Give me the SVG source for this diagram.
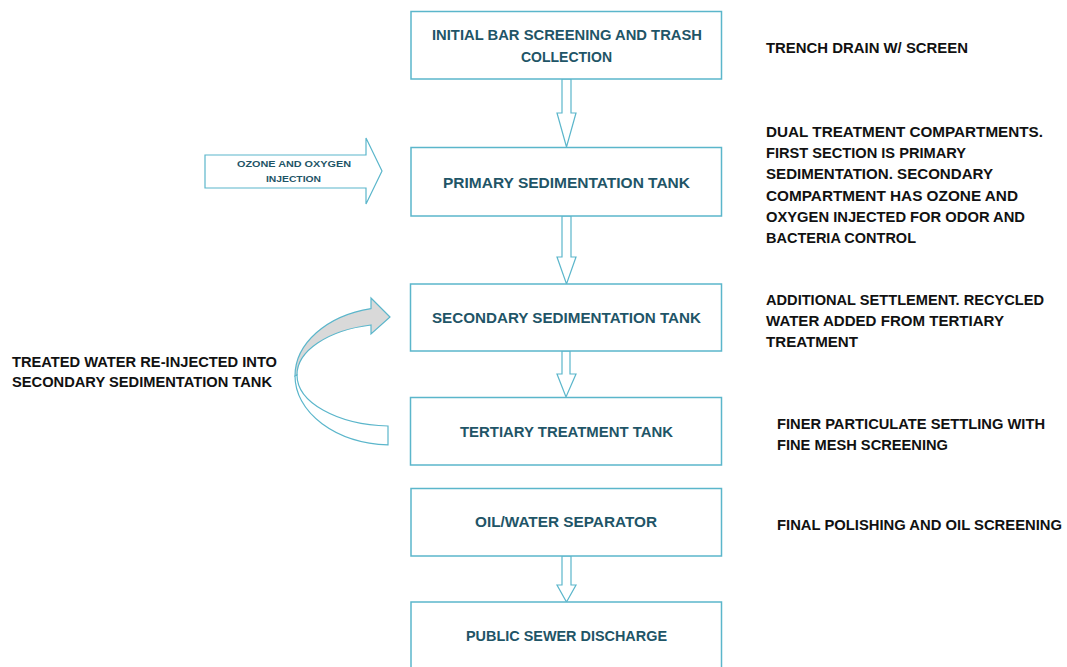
<svg xmlns="http://www.w3.org/2000/svg" width="1067" height="667" viewBox="0 0 1067 667">
<style>
.box{fill:#fff;stroke:#5bb6cb;stroke-width:1.5}
.arr{fill:#fff;stroke:#5bb6cb;stroke-width:1.2;stroke-linejoin:miter}
.bt{font-family:"Liberation Sans",Arial,sans-serif;font-weight:bold;font-size:15px;fill:#1f5567;text-anchor:middle}
.nt{font-family:"Liberation Sans",Arial,sans-serif;font-weight:bold;font-size:15px;fill:#111}
.ot{font-family:"Liberation Sans",Arial,sans-serif;font-weight:bold;font-size:9px;fill:#1f5567;text-anchor:middle}
</style>
<rect width="1067" height="667" fill="#fff"/>
<g id="connectors">
<path class="arr" d="M562,79 L571,79 L571,113 L576,113 L566.5,147 L557,113 L562,113 Z"/>
<path class="arr" d="M562,216 L571,216 L571,257 L576,257 L566.5,284 L557,257 L562,257 Z"/>
<path class="arr" d="M562,351 L570,351 L570,374 L576,374 L566,397 L557,374 L562,374 Z"/>
<path class="arr" d="M562,556 L571,556 L571,585 L576,585 L566.5,602 L557,585 L562,585 Z"/>
<path class="arr" d="M205,155 L366,155 L366,138 L382,171 L366,204 L366,188 L205,188 Z"/>
<path class="arr" style="fill:#d9d9d9" d="M295,376 A97 69 0 0 1 371,308.6 L371,298 L390,317 L371,334 L371,325 A95 51 0 0 0 297,375 Z"/>
<path class="arr" d="M295,376 A97 69 0 0 0 388,444.8 L388,426 A95 51 0 0 1 297,375 Z"/>
</g>
<g id="ozone-label">
<text class="ot" x="294" y="167" textLength="114" lengthAdjust="spacingAndGlyphs">OZONE AND OXYGEN</text>
<text class="ot" x="293.5" y="182" textLength="55" lengthAdjust="spacingAndGlyphs">INJECTION</text>
</g>
<g id="n1">
<rect class="box" x="411" y="11.5" width="310.5" height="67.5"/>
<text class="bt" x="567" y="40" textLength="270" lengthAdjust="spacingAndGlyphs">INITIAL BAR SCREENING AND TRASH</text>
<text class="bt" x="566.5" y="62" textLength="91" lengthAdjust="spacingAndGlyphs">COLLECTION</text>
</g>
<g id="n2">
<rect class="box" x="411" y="147.5" width="310.5" height="68.5"/>
<text class="bt" x="566.5" y="188" textLength="247" lengthAdjust="spacingAndGlyphs">PRIMARY SEDIMENTATION TANK</text>
</g>
<g id="n3">
<rect class="box" x="410.5" y="284" width="311" height="67"/>
<text class="bt" x="566.5" y="323" textLength="269" lengthAdjust="spacingAndGlyphs">SECONDARY SEDIMENTATION TANK</text>
</g>
<g id="n4">
<rect class="box" x="410.5" y="397.5" width="311" height="67.5"/>
<text class="bt" x="566.5" y="437" textLength="213" lengthAdjust="spacingAndGlyphs">TERTIARY TREATMENT TANK</text>
</g>
<g id="n5">
<rect class="box" x="411" y="488.5" width="310.5" height="67.5"/>
<text class="bt" x="566" y="527" textLength="182" lengthAdjust="spacingAndGlyphs">OIL/WATER SEPARATOR</text>
</g>
<g id="n6">
<rect class="box" x="411" y="602" width="310.5" height="80"/>
<text class="bt" x="566.5" y="641" textLength="201" lengthAdjust="spacingAndGlyphs">PUBLIC SEWER DISCHARGE</text>
</g>
<g id="notes">
<text class="nt" x="766" y="53" textLength="202" lengthAdjust="spacingAndGlyphs">TRENCH DRAIN W/ SCREEN</text>
<text class="nt" x="766" y="137" textLength="277" lengthAdjust="spacingAndGlyphs">DUAL TREATMENT COMPARTMENTS.</text>
<text class="nt" x="766" y="158.2" textLength="200" lengthAdjust="spacingAndGlyphs">FIRST SECTION IS PRIMARY</text>
<text class="nt" x="766" y="179.4" textLength="227" lengthAdjust="spacingAndGlyphs">SEDIMENTATION. SECONDARY</text>
<text class="nt" x="766" y="200.6" textLength="252" lengthAdjust="spacingAndGlyphs">COMPARTMENT HAS OZONE AND</text>
<text class="nt" x="766" y="221.8" textLength="259" lengthAdjust="spacingAndGlyphs">OXYGEN INJECTED FOR ODOR AND</text>
<text class="nt" x="766" y="243" textLength="150" lengthAdjust="spacingAndGlyphs">BACTERIA CONTROL</text>
<text class="nt" x="766" y="305" textLength="278" lengthAdjust="spacingAndGlyphs">ADDITIONAL SETTLEMENT. RECYCLED</text>
<text class="nt" x="766" y="326" textLength="238" lengthAdjust="spacingAndGlyphs">WATER ADDED FROM TERTIARY</text>
<text class="nt" x="766" y="347" textLength="92" lengthAdjust="spacingAndGlyphs">TREATMENT</text>
<text class="nt" x="777" y="429" textLength="268" lengthAdjust="spacingAndGlyphs">FINER PARTICULATE SETTLING WITH</text>
<text class="nt" x="777" y="450" textLength="171" lengthAdjust="spacingAndGlyphs">FINE MESH SCREENING</text>
<text class="nt" x="777" y="530" textLength="285" lengthAdjust="spacingAndGlyphs">FINAL POLISHING AND OIL SCREENING</text>
<text class="nt" x="12" y="367" textLength="265" lengthAdjust="spacingAndGlyphs">TREATED WATER RE-INJECTED INTO</text>
<text class="nt" x="12" y="387" textLength="260" lengthAdjust="spacingAndGlyphs">SECONDARY SEDIMENTATION TANK</text>
</g>
</svg>
